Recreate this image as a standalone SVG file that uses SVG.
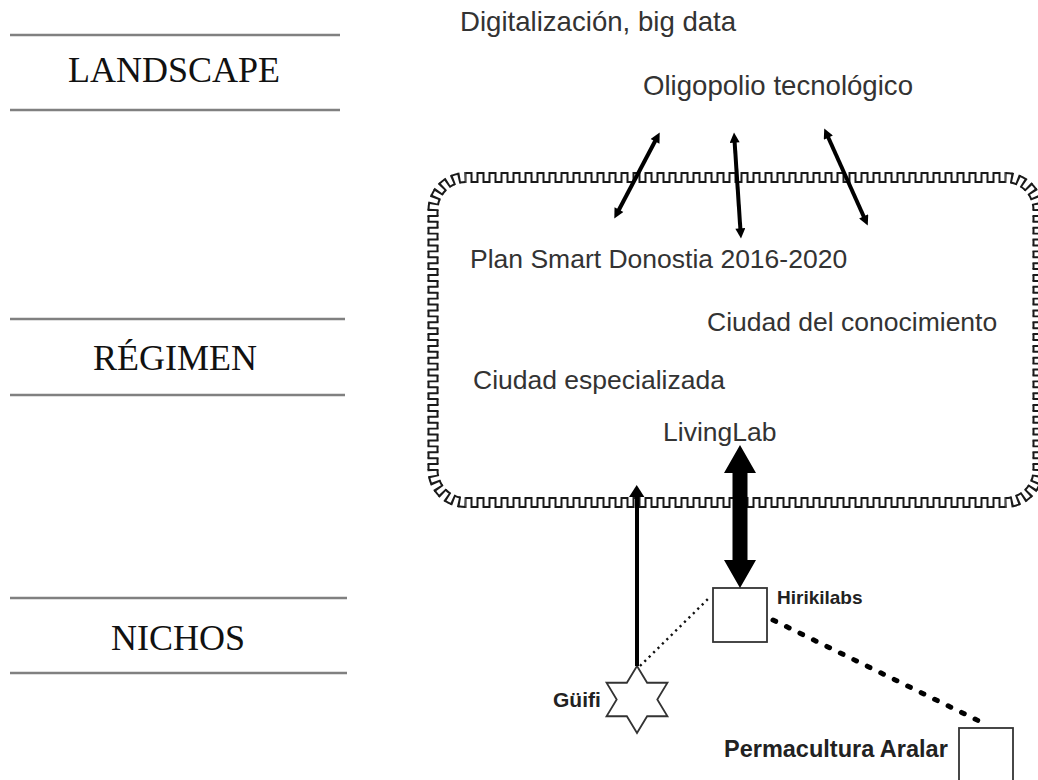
<svg xmlns="http://www.w3.org/2000/svg" width="1038" height="780" viewBox="0 0 1038 780">
<style>
.lvl{font-family:"Liberation Serif","Times New Roman",serif;font-size:36px;fill:#111;text-anchor:middle}
.rule{stroke:#808080;stroke-width:2.5}
.t{font-family:"Liberation Sans",Arial,sans-serif;font-size:26.5px;fill:#333}
.tl{font-size:27.6px}
.b{font-family:"Liberation Sans",Arial,sans-serif;font-weight:bold;fill:#222}
.fr path{fill:none;stroke:#1a1a1a;stroke-linecap:butt}
.fr .o{stroke-width:2;stroke-dasharray:6 6}
.fr .i{stroke-width:2;stroke-dasharray:6 6;stroke-dashoffset:6}
.fr .r{stroke-width:11;stroke-dasharray:2 4;stroke-dashoffset:1}
.shape{fill:#fff;stroke:#333;stroke-width:1.8}
.dbl{stroke:#000;stroke-width:4;fill:none}
</style>
<defs>
<marker id="ah" viewBox="0 0 10 10" refX="4" refY="5" markerWidth="11" markerHeight="10" markerUnits="userSpaceOnUse" orient="auto-start-reverse">
<path d="M0,0 L10,5 L0,10 z" fill="#000"/>
</marker>
</defs>

<g id="level-landscape">
<line class="rule" x1="10" y1="35" x2="340" y2="35"/>
<text class="lvl" x="174" y="82">LANDSCAPE</text>
<line class="rule" x1="10" y1="110" x2="340" y2="110"/>
</g>
<g id="level-regimen">
<line class="rule" x1="10" y1="319" x2="345" y2="319"/>
<text class="lvl" x="175" y="370">RÉGIMEN</text>
<line class="rule" x1="10" y1="395" x2="345" y2="395"/>
</g>
<g id="level-nichos">
<line class="rule" x1="10" y1="598" x2="347" y2="598"/>
<text class="lvl" x="178" y="650">NICHOS</text>
<line class="rule" x1="10" y1="673" x2="347" y2="673"/>
</g>

<g id="regimen-frame" class="fr">
<path class="o" pathLength="540" d="M465.5,173 H1005.5"/>
<path class="i" pathLength="540" d="M465.5,182 H1005.5"/>
<path class="r" pathLength="540" d="M465.5,177.5 H1005.5"/>
<path class="o" pathLength="48" d="M1005.5,173 A37,37 0 0 1 1042.5,210"/>
<path class="i" pathLength="48" d="M1005.5,182 A28,28 0 0 1 1033.5,210"/>
<path class="r" pathLength="48" d="M1005.5,177.5 A32.5,32.5 0 0 1 1038,210"/>
<path class="o" pathLength="264" d="M1042.5,210 V470"/>
<path class="i" pathLength="264" d="M1033.5,210 V470"/>
<path class="r" pathLength="264" d="M1038,210 V470"/>
<path class="o" pathLength="48" d="M1042.5,470 A37,37 0 0 1 1005.5,507"/>
<path class="i" pathLength="48" d="M1033.5,470 A28,28 0 0 1 1005.5,498"/>
<path class="r" pathLength="48" d="M1038,470 A32.5,32.5 0 0 1 1005.5,502.5"/>
<path class="o" pathLength="540" d="M1005.5,507 H465.5"/>
<path class="i" pathLength="540" d="M1005.5,498 H465.5"/>
<path class="r" pathLength="540" d="M1005.5,502.5 H465.5"/>
<path class="o" pathLength="48" d="M465.5,507 A37,37 0 0 1 428.5,470"/>
<path class="i" pathLength="48" d="M465.5,498 A28,28 0 0 1 437.5,470"/>
<path class="r" pathLength="48" d="M465.5,502.5 A32.5,32.5 0 0 1 433,470"/>
<path class="o" pathLength="264" d="M428.5,470 V210"/>
<path class="i" pathLength="264" d="M437.5,470 V210"/>
<path class="r" pathLength="264" d="M433,470 V210"/>
<path class="o" pathLength="48" d="M428.5,210 A37,37 0 0 1 465.5,173"/>
<path class="i" pathLength="48" d="M437.5,210 A28,28 0 0 1 465.5,182"/>
<path class="r" pathLength="48" d="M433,210 A32.5,32.5 0 0 1 465.5,177.5"/>
</g>

<g id="node-digitalizacion"><text class="t tl" x="460" y="31">Digitalización, big data</text></g>
<g id="node-oligopolio"><text class="t tl" x="643" y="95">Oligopolio tecnológico</text></g>
<g id="node-plan-smart"><text class="t" x="470" y="268">Plan Smart Donostia 2016-2020</text></g>
<g id="node-ciudad-conocimiento"><text class="t" x="707" y="331">Ciudad del conocimiento</text></g>
<g id="node-ciudad-especializada"><text class="t" x="473" y="389">Ciudad especializada</text></g>
<g id="node-livinglab"><text class="t" x="663" y="441">LivingLab</text></g>

<g id="node-hirikilabs">
<rect class="shape" x="713" y="588" width="54" height="54"/>
<text class="b" x="777" y="604" font-size="19">Hirikilabs</text>
</g>
<g id="node-guifi">
<polygon class="shape" points="637,666 647.15,682.75 667.46,682.75 657.31,699.5 667.46,716.25 647.15,716.25 637,733 626.85,716.25 606.54,716.25 616.69,699.5 606.54,682.75 626.85,682.75"/>
<text class="b" x="553" y="707" font-size="21">Güifi</text>
</g>
<g id="node-permacultura">
<rect class="shape" x="959" y="728" width="54" height="54"/>
<text class="b" x="724" y="757" font-size="23.5">Permacultura Aralar</text>
</g>

<g id="connectors">
<line class="dbl" x1="617.1" y1="213.2" x2="656.9" y2="137.8" marker-start="url(#ah)" marker-end="url(#ah)"/>
<line class="dbl" x1="740.6" y1="232.4" x2="734.4" y2="138.6" marker-start="url(#ah)" marker-end="url(#ah)"/>
<line class="dbl" x1="865.3" y1="220" x2="826.7" y2="134" marker-start="url(#ah)" marker-end="url(#ah)"/>
<line x1="637" y1="666" x2="637" y2="495" stroke="#000" stroke-width="4"/>
<polygon points="636.7,485 629,497 644.4,497" fill="#000"/>
<polygon points="740,445 756,473 747.5,473 747.5,560 756,560 740,588 724,560 732.5,560 732.5,473 724,473" fill="#000"/>
<line x1="640" y1="666" x2="709" y2="598" stroke="#111" stroke-width="2.4" stroke-dasharray="2.2 4"/>
<line x1="773" y1="620" x2="979" y2="721" stroke="#000" stroke-width="5" stroke-linecap="round" stroke-dasharray="3 12"/>
</g>
</svg>
